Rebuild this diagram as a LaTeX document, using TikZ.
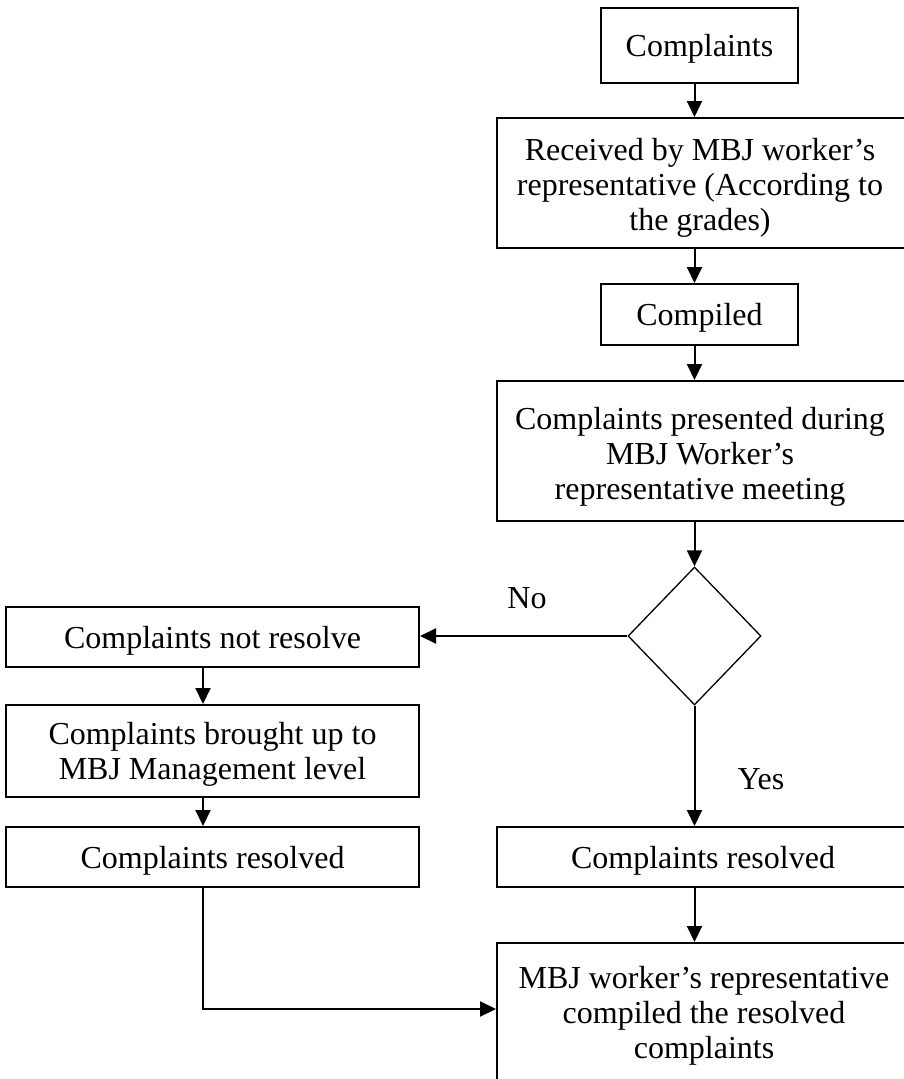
\documentclass[tikz,border=0pt]{standalone}
\usepackage{fontspec}
\setmainfont{Liberation Serif}
\usetikzlibrary{shapes.geometric,arrows.meta}
\begin{document}
\begin{tikzpicture}[x=1pt,y=-1pt,
  every node/.style={font=\fontsize{32}{35}\selectfont, text depth=0pt},
  box/.style={draw, line width=2pt, inner sep=0pt},
  txt/.style={align=center, inner sep=0pt},
  arr/.style={line width=2pt, -{Triangle[length=16pt,width=15pt]}}]
\useasboundingbox (0,0) rectangle (904,1079);
\clip (0,0) rectangle (904,1079);
\fill[white] (0,0) rectangle (904,1079);
\coordinate (ax) at (694.5,0);
\coordinate (lx) at (203,0);
% right column
\node[box, minimum width=197pt, minimum height=75pt] (c1) at (699.5,45.5) {Complaints};
\node[box, minimum width=423pt, minimum height=130pt] (c2) at (708.5,183) {};
\node[txt] (t2) at (700,184) {Received by MBJ worker's\\representative (According to\\the grades)};
\node[box, minimum width=197pt, minimum height=61pt] (c3) at (699.5,314.5) {Compiled};
\node[box, minimum width=423pt, minimum height=140pt] (c4) at (708.5,451) {};
\node[txt] (t4) at (700,453) {Complaints presented during\\MBJ Worker's\\representative meeting};
\node[draw, line width=1.3pt, shape=diamond, inner sep=0pt, minimum width=133pt, minimum height=138pt] (dia) at (694.5,636) {};
\node[box, minimum width=423pt, minimum height=60pt] (c8) at (708.5,857) {};
\node[txt] (t8) at (703,857) {Complaints resolved};
\node[box, minimum width=423pt, minimum height=197pt] (c9) at (708.5,1041.5) {};
\node[txt] (t9) at (704,1012) {MBJ worker's representative\\compiled the resolved\\complaints};
% left column
\node[box, minimum width=413pt, minimum height=60pt] (c5) at (212.5,637) {Complaints not resolve};
\node[box, minimum width=413pt, minimum height=92pt, align=center] (c6) at (212.5,751) {Complaints brought up to\\MBJ Management level};
\node[box, minimum width=413pt, minimum height=60pt] (c7) at (212.5,857) {Complaints resolved};
% labels
\node (no) at (527,598) {No};
\node (yes) at (761,779) {Yes};
% connectors
\draw[arr] (c1.south -| ax) -- (c2.north -| ax);
\draw[arr] (c2.south -| ax) -- (c3.north -| ax);
\draw[arr] (c3.south -| ax) -- (c4.north -| ax);
\draw[arr] (c4.south -| ax) -- (dia.north);
\draw[arr] (dia.west) -- (dia.west -| c5.east);
\draw[arr] (dia.south) -- (c8.north -| dia.south);
\draw[arr] (c8.south -| ax) -- (c9.north -| ax);
\draw[arr] (c5.south -| lx) -- (c6.north -| lx);
\draw[arr] (c6.south -| lx) -- (c7.north -| lx);
\coordinate (bend) at (203,1009);
\draw[arr] (c7.south -| bend) -- (bend) -- (bend -| c9.west);
\end{tikzpicture}
\end{document}
